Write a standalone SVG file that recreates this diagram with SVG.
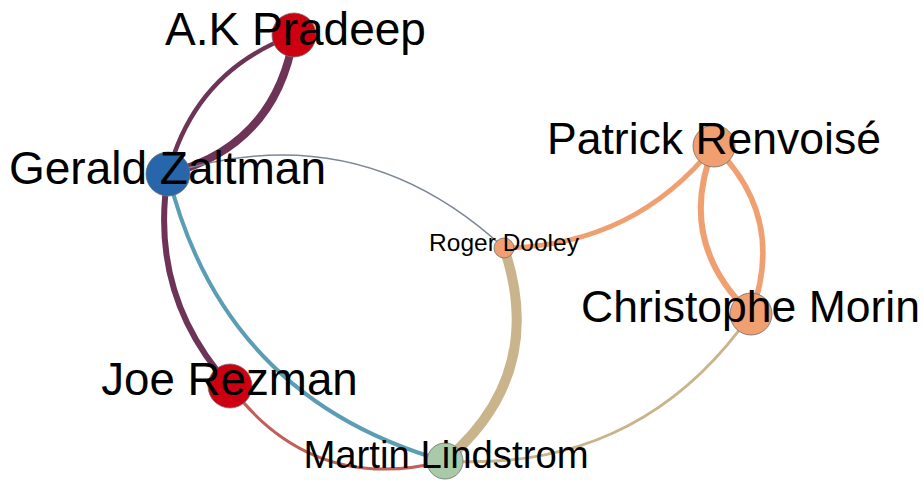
<svg xmlns="http://www.w3.org/2000/svg" width="923" height="480" viewBox="0 0 923 480">
<style>
.e{fill:none;stroke-linecap:round}
.n{stroke:#6e6e6e;stroke-width:0.8}
.l{font-family:"Liberation Sans",Arial,sans-serif;fill:#000;text-anchor:middle}
.big{font-size:46px}
.mid{font-size:44.5px}
</style>
<rect width="923" height="480" fill="#fff"/>
<g id="edges">
<path class="e" d="M168,174 Q195,71 294,35" stroke="#6e3458" stroke-width="4.5"/>
<path class="e" d="M168,174 Q276,146 294,35" stroke="#6e3458" stroke-width="8"/>
<path class="e" d="M168,174 Q148,295 230,386" stroke="#6e3458" stroke-width="6"/>
<path class="e" d="M168,174 Q223,398 445,461" stroke="#5b9db5" stroke-width="4"/>
<path class="e" d="M168,174 Q358,113 504,248" stroke="#7b8795" stroke-width="1.6"/>
<path class="e" d="M230,386 Q312,495 445,461" stroke="#c06058" stroke-width="3"/>
<path class="e" d="M504,248 Q547,375 445,461" stroke="#c9b48c" stroke-width="10"/>
<path class="e" d="M751,314 Q640,473 445,461" stroke="#c9b48c" stroke-width="3"/>
<path class="e" d="M504,248 Q634,246 714,146" stroke="#f0a070" stroke-width="5"/>
<path class="e" d="M714,146 Q675,242 751,314" stroke="#f0a070" stroke-width="6"/>
<path class="e" d="M714,146 Q787,217 751,314" stroke="#f0a070" stroke-width="5.5"/>
</g>
<g id="node-pradeep"><circle class="n" cx="294" cy="35" r="22" fill="#cc0011"/><text class="l big" x="295.5" y="45">A.K Pradeep</text></g>
<g id="node-zaltman"><circle class="n" cx="168" cy="174" r="22" fill="#2766aa"/><text class="l big" x="167.5" y="184">Gerald Zaltman</text></g>
<g id="node-rezman"><circle class="n" cx="230" cy="386" r="22" fill="#cc0011"/><text class="l" style="font-size:45.7px" x="229.5" y="395">Joe Rezman</text></g>
<g id="node-dooley"><circle class="n" cx="504" cy="248" r="10" fill="#f0a070"/><text class="l" style="font-size:24.5px" x="504" y="251">Roger Dooley</text></g>
<g id="node-renvoise"><circle class="n" cx="714" cy="146" r="21" fill="#f0a070"/><text class="l mid" x="714" y="154">Patrick Renvoisé</text></g>
<g id="node-morin"><circle class="n" cx="751" cy="314" r="21" fill="#f0a070"/><text class="l mid" x="750.5" y="322">Christophe Morin</text></g>
<g id="node-lindstrom"><circle class="n" cx="445" cy="461" r="18" fill="#a8caa8"/><text class="l" style="font-size:38.3px" x="446" y="468">Martin Lindstrom</text></g>
</svg>
